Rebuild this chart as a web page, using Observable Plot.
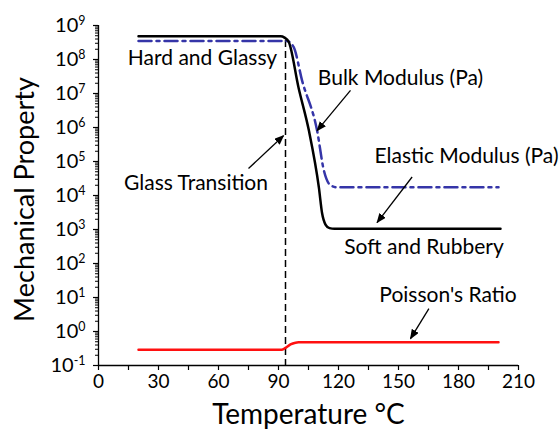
<!DOCTYPE html>
<html>
<head>
<meta charset="utf-8">
<script src="https://cdn.jsdelivr.net/npm/d3@7"></script>
<script src="https://cdn.jsdelivr.net/npm/@observablehq/plot@0.6"></script>
<style>
  body { margin: 0; background: #fff; }
</style>
</head>
<body>
<div id="chart"></div>
<script>
// ---- Data ----
const elasticT = [20, 91, 93, 95.2, 100, 105.2, 110.2, 111.8, 113.5, 115.5, 118, 201];
const elasticV = [4.8e8, 4.8e8, 4.4e8, 3.2e8, 1.5e7, 8.1e5, 1.7e4, 3.0e3, 1.4e3, 1.1e3, 1.05e3, 1.05e3];

const bulkT = [20, 94.3, 97.6, 101.8, 109.3, 112.7, 116, 119.3, 200];
const bulkV = [3.5e8, 3.5e8, 2.3e8, 2.4e7, 8.1e5, 5.4e4, 2.0e4, 1.74e4, 1.74e4];

const poissonT = [20, 91.5, 93.5, 96, 98.5, 100, 200];
const poissonV = [0.29, 0.29, 0.33, 0.42, 0.47, 0.48, 0.48];

const glassT = 93.5;
const glassTop = 3.6e8;

const xTickLabels = [0, 30, 60, 90, 120, 150, 180, 210];
const xMinorTicks = [15, 45, 75, 105, 135, 165, 195];
const yExponents = [-1, 0, 1, 2, 3, 4, 5, 6, 7, 8, 9];

const annLabels = ["Hard and Glassy", "Bulk Modulus (Pa)", "Glass Transition", "Elastic Modulus (Pa)", "Soft and Rubbery", "Poisson's Ratio"];
const annT = [52, 151, 48.75, 184, 162.75, 174.75];
const annV = [1.07e8, 2.75e7, 2.24e4, 1.4e5, 302, 11.5];

const arrT1 = [126, 75, 156.8, 165.2];
const arrV1 = [1.23e7, 6.2e4, 3.5e4, 4.7];
const arrT2 = [109.3, 92.5, 139.3, 156];
const arrV2 = [8.1e5, 5.75e5, 1.6e3, 0.62];

// ---- Build tables ----
const elastic = elasticT.map((t, i) => ({t, v: elasticV[i]}));
const bulk = bulkT.map((t, i) => ({t, v: bulkV[i]}));
const poisson = poissonT.map((t, i) => ({t, v: poissonV[i]}));
const annotations = annLabels.map((label, i) => ({label, t: annT[i], v: annV[i]}));
const arrows = arrT1.map((t1, i) => ({t1, v1: arrV1[i], t2: arrT2[i], v2: arrV2[i]}));

const yMajor = yExponents.map(e => Math.pow(10, e));
const yMinor = [];
yExponents.slice(0, -1).forEach(e => {
  for (let k = 2; k <= 9; k++) yMinor.push(k * Math.pow(10, e));
});

const FONT = "Lato, 'Open Sans', sans-serif";

const plot = Plot.plot({
  width: 560,
  height: 433,
  marginLeft: 98,
  marginRight: 42,
  marginTop: 25,
  marginBottom: 68,
  style: {fontFamily: FONT, fontSize: "19px", background: "#fff", color: "#000", overflow: "visible"},
  x: {domain: [0, 210]},
  y: {type: "log", domain: [0.1, 1e9]},
  marks: [
    Plot.axisX({ticks: xMinorTicks, tickSize: 5, tickFormat: () => "", label: null, strokeWidth: 1.2}),
    Plot.axisX({ticks: xTickLabels, tickSize: 5, tickPadding: 4, label: null, strokeWidth: 1.2, fontSize: 19}),
    Plot.axisY({ticks: yMinor, tickSize: 3, tickFormat: () => "", label: null, strokeWidth: 1}),
    Plot.axisY({ticks: yMajor, tickSize: 5, tickPadding: 8, label: null, strokeWidth: 1.2, fontSize: 20,
      tickFormat: d => "10^" + Math.round(Math.log10(d))}),
    Plot.ruleX([0], {y1: 0.1, y2: 1e9, stroke: "#000", strokeWidth: 1.3}),
    Plot.ruleY([0.1], {stroke: "#000", strokeWidth: 1.3}),
    Plot.text(["Temperature °C"], {frameAnchor: "bottom", dy: 50, lineAnchor: "middle", textAnchor: "middle", fontSize: 28, fill: "#000"}),
    Plot.text(["Mechanical Property"], {frameAnchor: "left", dx: -73, dy: 4, rotate: -90, lineAnchor: "middle", textAnchor: "middle", fontSize: 27, fill: "#000"}),
    Plot.ruleX([glassT], {y1: glassTop, y2: 0.1, stroke: "#000", strokeWidth: 1.5, strokeDasharray: "7,4"}),
    Plot.line(poisson, {x: "t", y: "v", stroke: "#ff1010", strokeWidth: 2.5, curve: "monotone-x"}),
    Plot.line(bulk, {x: "t", y: "v", stroke: "#3535a8", strokeWidth: 2.5, strokeDasharray: "13,5,3,5", curve: "monotone-x"}),
    Plot.line(elastic, {x: "t", y: "v", stroke: "#000", strokeWidth: 2.5, curve: "monotone-x"}),
    Plot.text(annotations, {x: "t", y: "v", text: "label", fontSize: 21, fill: "#000"}),
    Plot.link(arrows, {x1: "t1", y1: "v1", x2: "t2", y2: "v2", stroke: "#000", strokeWidth: 1.3})
  ]
});

document.getElementById("chart").appendChild(plot);

// ---- Post-process: superscript exponents and filled arrowheads ----
const svg = d3.select(plot);
svg.selectAll("text").each(function () {
  const m = this.textContent.match(/^10\^(-?\d+)$/);
  if (m) {
    const s = d3.select(this);
    s.text("10");
    s.append("tspan").attr("dy", "-0.55em").attr("font-size", "0.62em").text(m[1]);
  }
});
const defs = svg.append("defs");
defs.append("marker")
  .attr("id", "ah")
  .attr("viewBox", "0 0 10 8")
  .attr("refX", 9)
  .attr("refY", 4)
  .attr("markerWidth", 10)
  .attr("markerHeight", 8)
  .attr("markerUnits", "userSpaceOnUse")
  .attr("orient", "auto")
  .append("path")
  .attr("d", "M0,0L10,4L0,8Z")
  .attr("fill", "#000");
svg.selectAll('g[aria-label="link"] path').attr("marker-end", "url(#ah)");
</script>
</body>
</html>
